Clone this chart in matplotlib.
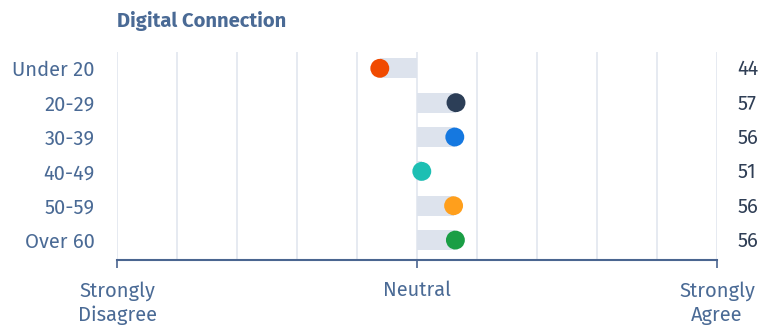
import matplotlib.pyplot as plt

# data
groups = ["Under 20", "20-29", "30-39", "40-49", "50-59", "Over 60"]
scores = [43.8, 56.5, 56.3, 50.8, 56.1, 56.4]
score_labels = ["44", "57", "56", "51", "56", "56"]
dot_colors = ["#F04A00", "#2C3E57", "#1578E0", "#1DBFB3", "#FF9F1C", "#1A9E45"]
neutral = 50
tick_pos = [0, 50, 100]
tick_names = ["Strongly\nDisagree", "Neutral", "Strongly\nAgree"]

plt.rcParams['font.family'] = ['Fira Sans', 'Roboto', 'DejaVu Sans']

LABEL = "#4A6A95"
AXIS = "#4A6590"
GRID = "#E1E6EF"
BAR = "#DDE3ED"

fig = plt.figure(figsize=(7.62, 3.29), dpi=100)
ax = fig.add_axes([117 / 762, 1 - 260 / 329, 600 / 762, 208 / 329])

ys = list(range(len(groups)))

for x in range(0, 101, 10):
    ax.axvline(x, color=GRID, lw=1.2, zorder=0)

for y, s in zip(ys, scores):
    ax.barh(y, s - neutral, left=neutral, height=0.58, color=BAR, zorder=1)

ax.scatter(scores, ys, s=185, c=dot_colors, zorder=3, linewidths=0)

for y, lab in zip(ys, score_labels):
    ax.annotate(lab, xy=(1, y), xycoords=('axes fraction', 'data'),
                xytext=(14.5, -1), textcoords='offset points',
                ha='left', va='center', fontsize=14.5, color="#2F3E55")

ax.set_xlim(0, 100)
ax.set_ylim(5.58, -0.475)
ax.set_yticks(ys)
ax.set_yticklabels(groups, fontsize=14.5, color=LABEL)
ax.tick_params(axis='y', length=0, pad=16)
ax.set_xticks(tick_pos)
ax.set_xticklabels(tick_names, fontsize=14.5, color=LABEL, linespacing=1.3)
ax.tick_params(axis='x', length=6, width=1.2, color=AXIS, pad=9, direction='out')

for side in ['top', 'right', 'left']:
    ax.spines[side].set_visible(False)
ax.spines['bottom'].set_color(AXIS)
ax.spines['bottom'].set_linewidth(1.5)

fig.text(117 / 762, 1 - 21 / 329, "Digital Connection", fontsize=14.5,
         fontweight='bold', color=LABEL, ha='left', va='center')

fig.savefig("out.png", dpi=100)
